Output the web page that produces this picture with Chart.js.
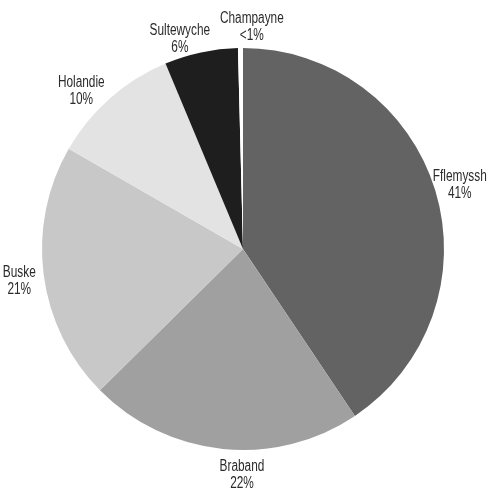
<!DOCTYPE html>
<html>
<head>
<meta charset="utf-8">
<script src="https://cdn.jsdelivr.net/npm/chart.js@4/dist/chart.umd.min.js"></script>
<style>
  html, body { margin: 0; padding: 0; background: #ffffff; }
  canvas { display: block; }
</style>
</head>
<body>
<canvas id="pie" width="494" height="492"></canvas>
<script>
// Market shares by variety, clockwise from 12 o'clock
const categories = ['Fflemyssh', 'Braband', 'Buske', 'Holandie', 'Sultewyche', 'Champayne'];
const shares = [40.6, 22.0, 20.7, 10.4, 5.9, 0.4];
const sliceColors = ['#636363', '#a0a0a0', '#c8c8c8', '#e3e3e3', '#1e1e1e', '#ffffff'];

function pctText(v) {
  return v < 1 ? '<1%' : Math.round(v) + '%';
}

// Draws "name / percent" outside each slice around its middle angle,
// with small per-label angle/radius tweaks so neighbours don't crowd each other.
const outsideLabels = {
  id: 'outsideLabels',
  afterDatasetsDraw(chart, args, opts) {
    const ctx = chart.ctx;
    const meta = chart.getDatasetMeta(0);
    const shift = opts.angleShift || [];
    const pull = opts.radialShift || [];
    const lineH = 17;
    const squeeze = 0.74; // narrow lettering
    ctx.save();
    ctx.font = '16px "Liberation Sans", Arial, sans-serif';
    ctx.fillStyle = '#2b2b2b';
    ctx.textAlign = 'center';
    ctx.textBaseline = 'middle';
    meta.data.forEach((arc, i) => {
      const p = arc.getProps(['x', 'y', 'startAngle', 'endAngle', 'outerRadius'], true);
      const mid = (p.startAngle + p.endAngle) / 2 + (shift[i] || 0) * Math.PI / 180;
      const r = p.outerRadius + opts.gap + (pull[i] || 0);
      const cx = p.x + Math.cos(mid) * r;
      const cy = p.y + Math.sin(mid) * r;
      ctx.save();
      ctx.translate(cx, cy);
      ctx.scale(squeeze, 1);
      ctx.fillText(categories[i], 0, -lineH / 2);
      ctx.fillText(pctText(shares[i]), 0, lineH / 2);
      ctx.restore();
    });
    ctx.restore();
  }
};

new Chart(document.getElementById('pie'), {
  type: 'pie',
  data: {
    labels: categories,
    datasets: [{
      data: shares,
      backgroundColor: sliceColors,
      borderWidth: 0,
      hoverOffset: 0
    }]
  },
  options: {
    responsive: false,
    animation: false,
    layout: { padding: { left: 42, right: 50, top: 48, bottom: 42 } },
    plugins: {
      legend: { display: false },
      tooltip: { enabled: false },
      outsideLabels: {
        gap: 25,
        angleShift: [0.5, -5.5, -0.8, -4.3, -4.7, 3],
        radialShift: [0, 0, 0, 0, -7, -4]
      }
    }
  },
  plugins: [outsideLabels]
});
</script>
</body>
</html>
